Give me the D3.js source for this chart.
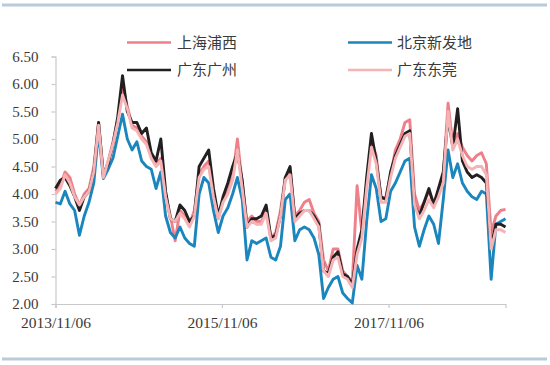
<!DOCTYPE html>
<html>
<head>
<meta charset="utf-8">
<script src="https://cdn.jsdelivr.net/npm/d3@7"></script>
<style>
  html, body { margin: 0; padding: 0; background: #fff; }
  svg { display: block; }
</style>
</head>
<body>
<svg></svg>
<script>
// Dimension constants
const WIDTH = 550;
const HEIGHT = 365;
const LEFT = 55.5;
const RIGHT = 505.5;
const TOP = 56.5;
const BOTTOM = 304;

// data: one value every 3 weeks from 2013/11/06
const START = new Date(2013, 10, 6);
const STEP_DAYS = 21;

const seriesNames = ['上海浦西', '北京新发地', '广东广州', '广东东莞'];

const shanghai = [
  4.05, 4.15, 4.4, 4.3, 4.0, 3.8, 4.0, 4.1, 4.5, 5.3,
  4.3, 4.6, 4.95, 5.35, 5.95, 5.6, 5.25, 5.2, 5.05, 4.95,
  4.7, 4.55, 4.65, 4.0, 3.6, 3.15, 3.7, 3.6, 3.45, 3.7,
  4.35, 4.5, 4.6, 4.0, 3.55, 3.9, 4.05, 4.3, 5.0, 4.2,
  3.5, 3.6, 3.5, 3.5, 3.7, 3.2, 3.3, 3.7, 4.3, 4.4,
  3.6, 3.7, 3.85, 3.9, 3.65, 3.5, 2.8, 2.6, 3.0, 3.0,
  2.6, 2.5, 2.4, 4.15, 3.3, 4.2, 4.95, 4.7, 3.9, 3.95,
  4.35, 4.8, 5.0, 5.3, 5.35, 4.0, 3.7, 3.85, 4.05, 3.85,
  4.05, 4.3, 5.65, 4.9, 5.1, 4.85, 4.7, 4.6, 4.7, 4.75,
  4.55, 3.3, 3.6, 3.7, 3.72
];

const beijing = [
  3.85, 3.82, 4.05, 3.82, 3.7, 3.25, 3.6, 3.85, 4.2, 5.15,
  4.28, 4.45, 4.65, 5.05, 5.45, 5.0, 4.8, 4.95, 4.6, 4.5,
  4.45, 4.1, 4.4, 3.6, 3.3, 3.2, 3.4, 3.2, 3.1, 3.05,
  4.0, 4.3, 4.2, 3.7, 3.3, 3.6, 3.75, 4.0, 4.3, 3.9,
  2.8, 3.15, 3.1, 3.15, 3.2, 2.85, 2.8, 3.05, 3.9, 4.0,
  3.15, 3.35, 3.4, 3.35, 3.2, 2.9, 2.1, 2.3, 2.45, 2.5,
  2.2, 2.1, 2.02, 2.7, 2.45, 3.5, 4.35, 4.1, 3.5, 3.55,
  4.05, 4.2, 4.4, 4.6, 4.65, 3.4, 3.05, 3.35, 3.6, 3.45,
  3.1, 3.9, 4.8, 4.3, 4.55, 4.2, 4.05, 3.95, 3.9, 4.05,
  4.0, 2.45, 3.45, 3.5, 3.55
];

const guangzhou = [
  4.1, 4.25, 4.3, 4.15, 3.95, 3.7, 3.95, 4.05, 4.4, 5.3,
  4.35, 4.55, 4.9, 5.4, 6.15, 5.5, 5.3, 5.3, 5.1, 5.2,
  4.75, 4.6, 5.0, 4.05, 3.55, 3.5, 3.8, 3.7, 3.5, 3.6,
  4.5, 4.65, 4.8, 4.1, 3.6, 3.95, 4.2, 4.5, 4.75, 4.25,
  3.4, 3.55, 3.55, 3.6, 3.8, 3.2, 3.25, 3.6, 4.3, 4.5,
  3.55, 3.65, 3.7, 3.7, 3.6, 3.45, 2.6, 2.55, 2.85, 2.95,
  2.55, 2.5, 2.35, 3.0, 3.35, 4.3, 5.1, 4.6, 3.95, 3.9,
  4.4, 4.7, 4.9, 5.1, 5.15, 3.8, 3.6, 3.85, 4.1, 3.8,
  4.1, 4.4, 5.4, 4.85, 5.55, 4.6, 4.4, 4.3, 4.35, 4.3,
  4.2, 3.05, 3.45, 3.45, 3.4
];

const dongguan = [
  4.0, 4.1, 4.35, 4.2, 3.95, 3.8, 3.95, 4.05, 4.4, 5.25,
  4.3, 4.6, 4.9, 5.3, 5.8, 5.55, 5.2, 5.15, 5.0, 4.9,
  4.65, 4.5, 4.6, 3.95, 3.55, 3.5, 3.65, 3.55, 3.4, 3.6,
  4.3, 4.45, 4.5, 3.95, 3.55, 3.85, 4.0, 4.25, 4.8, 4.1,
  3.4, 3.5, 3.45, 3.45, 3.65, 3.15, 3.2, 3.6, 4.25, 4.35,
  3.5, 3.6, 3.7, 3.7, 3.55, 3.4, 2.6, 2.5, 2.8, 2.85,
  2.5, 2.45, 2.3, 2.9, 3.2, 4.1, 4.85, 4.55, 3.85, 3.85,
  4.3, 4.65, 4.85, 5.05, 5.1, 3.8, 3.55, 3.7, 3.9, 3.75,
  3.95, 4.2, 5.5, 4.8, 5.0, 4.7, 4.5, 4.45, 4.5, 4.5,
  4.35, 3.0, 3.35, 3.35, 3.3
];

const yTicks = [2.0, 2.5, 3.0, 3.5, 4.0, 4.5, 5.0, 5.5, 6.0, 6.5];
const xTickLabels = ['2013/11/06', '2015/11/06', '2017/11/06'];

// colors
const colors = ['#ef7f88', '#1b86bd', '#231f20', '#f5b3b6'];

const dates = d3.range(shanghai.length).map(i => d3.timeDay.offset(START, i * STEP_DAYS));
const allSeries = [shanghai, beijing, guangzhou, dongguan];

// SVG
const svg = d3.select('svg')
    .attr('width', WIDTH)
    .attr('height', HEIGHT);

// frame bands
svg.append('rect')
    .attr('x', 2).attr('y', 3.5)
    .attr('width', 545).attr('height', 3)
    .attr('fill', '#b9cadb');
svg.append('rect')
    .attr('x', 2).attr('y', 357.5)
    .attr('width', 545).attr('height', 3)
    .attr('fill', '#b9cadb');

const x = d3.scaleTime()
    .domain([dates[0], dates[dates.length - 1]])
    .range([LEFT, RIGHT]);

const y = d3.scaleLinear()
    .domain([2, 6.5])
    .range([BOTTOM, TOP]);

const parseTick = d3.timeParse('%Y/%m/%d');

// y axis
const yAxis = svg.append('g')
    .attr('transform', `translate(${LEFT},0)`)
    .call(d3.axisLeft(y).tickValues(yTicks).tickFormat(d3.format('.2f')).tickSize(4).tickPadding(13));

// x axis
const xAxis = svg.append('g')
    .attr('transform', `translate(0,${BOTTOM})`)
    .call(d3.axisBottom(x)
        .tickValues(xTickLabels.map(parseTick))
        .tickFormat(d3.timeFormat('%Y/%m/%d'))
        .tickSize(4).tickPadding(9));

[yAxis, xAxis].forEach(g => {
    g.select('.domain').attr('stroke', '#c8c8c8').attr('stroke-width', 1.2);
    g.selectAll('.tick line').attr('stroke', '#c8c8c8').attr('stroke-width', 1.2);
    g.selectAll('.tick text')
        .attr('fill', '#3a3a3a')
        .attr('font-family', '"Liberation Serif", "Times New Roman", serif')
        .attr('font-size', 15);
});
xAxis.selectAll('.tick text').attr('font-size', 15.5);

// lines
const line = d3.line()
    .x((d, i) => x(dates[i]))
    .y(d => y(d));

svg.append('g')
    .selectAll('path')
    .data(allSeries).enter().append('path')
    .attr('d', line)
    .attr('fill', 'none')
    .attr('stroke', (d, i) => colors[i])
    .attr('stroke-width', 2.9)
    .attr('stroke-linejoin', 'round');

// legend
const legendPos = [[127, 42.5], [348, 42.5], [127, 70], [348, 70]];

const legend = svg.append('g').attr('id', 'legend');

const items = legend.selectAll('.legend-item')
    .data(seriesNames).enter().append('g')
    .attr('class', 'legend-item')
    .attr('transform', (d, i) => `translate(${legendPos[i][0]},${legendPos[i][1]})`);

items.append('line')
    .attr('x1', 0).attr('x2', 44)
    .attr('y1', 0).attr('y2', 0)
    .attr('stroke', (d, i) => colors[i])
    .attr('stroke-width', 2.6);

items.append('text')
    .attr('x', (d, i) => i % 2 === 0 ? 50 : 49)
    .attr('y', 0)
    .attr('dy', '0.36em')
    .attr('font-family', '"Noto Sans CJK SC", sans-serif')
    .attr('font-size', 15)
    .attr('fill', '#3a3a3a')
    .text(d => d);
</script>
</body>
</html>
